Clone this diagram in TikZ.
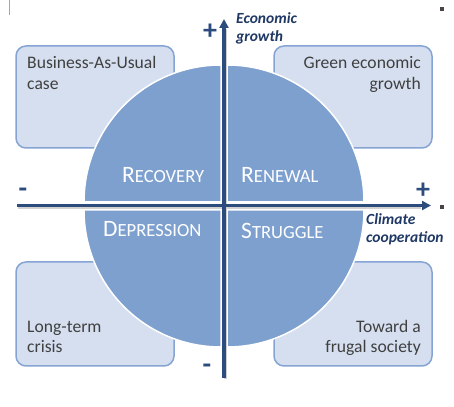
\documentclass[tikz,border=0pt]{standalone}
\usepackage{fontspec}
\setmainfont{Carlito}
\usetikzlibrary{arrows.meta}
\definecolor{quadfill}{HTML}{7DA0CF}
\definecolor{boxfill}{HTML}{D5DFF0}
\definecolor{boxline}{HTML}{85A4D3}
\definecolor{axiscol}{HTML}{2D4C7E}
\definecolor{labcol}{HTML}{1F3864}
\definecolor{txtcol}{HTML}{404040}
\definecolor{markcol}{HTML}{4A4444}
\newcommand{\sclab}[2]{{\fontsize{23.5}{23.5}\selectfont #1}{\fontsize{18.6}{18.6}\selectfont #2}}
\tikzset{
  boxshape/.style={fill=boxfill,draw=boxline,line width=1.5pt,rounded corners=10pt},
  quadshape/.style={fill=quadfill,draw=white,line width=1.5pt},
  boxtext/.style={inner sep=0pt,text=txtcol,font=\fontsize{17.6}{21}\selectfont},
  quadtext/.style={inner sep=0pt,text=white,anchor=base west},
  axislabel/.style={inner sep=0pt,text=labcol,font=\fontsize{15.5}{18}\selectfont\bfseries\itshape,align=left,anchor=base west},
  signtext/.style={inner sep=0pt,text=axiscol,font=\fontsize{28}{28}\selectfont\bfseries},
  axisline/.style={draw=axiscol,line width=3.5pt,-{Triangle[length=9pt,width=9pt]}},
  shadowline/.style={draw=black!18,line width=3pt}
}
\begin{document}
\begin{tikzpicture}[x=1pt,y=1pt]
\useasboundingbox (0,0) rectangle (454,406);
% stray marks
\draw[gray!70,line width=0.8pt] (9,406) -- (9,391);
\fill[markcol] (440,395) rectangle (444,399);
\fill[markcol] (440,197) rectangle (444,201);
% boxes
\draw[boxshape] (16,258) rectangle (174,360);
\draw[boxshape] (274,258) rectangle (432,360);
\draw[boxshape] (16,40) rectangle (174,144);
\draw[boxshape] (274,40) rectangle (432,144);
% quadrants
\draw[quadshape] (221,204) -- ++(-137,0) arc[start angle=180,end angle=90,radius=137] -- cycle;
\draw[quadshape] (227,204) -- ++(0,137) arc[start angle=90,end angle=0,radius=137] -- cycle;
\draw[quadshape] (221,196) -- ++(-137,0) arc[start angle=180,end angle=270,radius=137] -- cycle;
\draw[quadshape] (227,196) -- ++(0,-137) arc[start angle=270,end angle=360,radius=137] -- cycle;
% box texts
\node[boxtext,anchor=base west] (bau1) at (27,337) {Business-As-Usual};
\node[boxtext,anchor=base west] (bau2) at (27,316) {case};
\node[boxtext,anchor=base east] (geg1) at (421,337) {Green economic};
\node[boxtext,anchor=base east] (geg2) at (421,316) {growth};
\node[boxtext,anchor=base west] (ltc1) at (27,73) {Long-term};
\node[boxtext,anchor=base west] (ltc2) at (27,53) {crisis};
\node[boxtext,anchor=base east] (tfs1) at (421,73) {Toward a};
\node[boxtext,anchor=base east] (tfs2) at (421,53) {frugal society};
% quadrant labels
\node[quadtext] (recovery) at (122,223) {\sclab{R}{ECOVERY}};
\node[quadtext] (renewal) at (241,223) {\sclab{R}{ENEWAL}};
\node[quadtext] (depression) at (103,169) {\sclab{D}{EPRESSION}};
\node[quadtext] (struggle) at (241,167) {\sclab{S}{TRUGGLE}};
% axes
\coordinate (xl) at (17,200.5);
\coordinate (xr) at (431,200.5);
\coordinate (yb) at (224,28);
\coordinate (yt) at (224,387);
\draw[shadowline] ([shift={(1,-1.8)}]xl) -- ([shift={(-10,-1.8)}]xr);
\draw[shadowline] ([shift={(1.8,-1)}]yb) -- ([shift={(1.8,-10)}]yt);
\draw[axisline] (xl) -- (xr);
\draw[axisline] (yb) -- (yt);
% axis labels
\node[axislabel] (econ) at (236,364) {Economic\\growth};
\node[axislabel] (clim) at (366,163) {Climate\\cooperation};
% signs
\node[signtext] (yplus) at (210,374) {+};
\node[signtext] (xplus) at (423,215) {+};
\node[signtext] (xminus) at (23,213) {-};
\node[signtext] (yminus) at (207,37) {-};
\end{tikzpicture}
\end{document}
